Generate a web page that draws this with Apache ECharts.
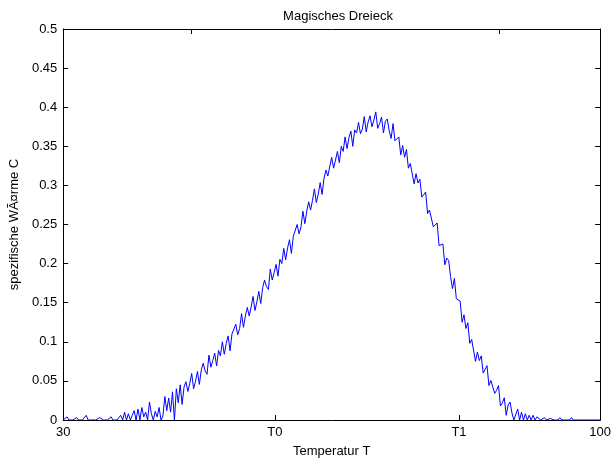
<!DOCTYPE html>
<html>
<head>
<meta charset="utf-8">
<script src="https://cdn.jsdelivr.net/npm/echarts@6/dist/echarts.min.js"></script>
<style>
html,body{margin:0;padding:0;background:#fff;}
#chart{width:614px;height:463px;}
</style>
</head>
<body>
<div id="chart"></div>
<script>
const titleText = 'Magisches Dreieck';
const xName = 'Temperatur T';
const yName = 'spezifische WÃ¤rme C';
const xTickValues = [30, 57.6, 81.6, 100];
const xTickLabels = ['30', 'T0', 'T1', '100'];
const topTickValues = [46.7, 86.9];
const temps = [
30,30.25,30.5,30.75, 31,31.25,31.5,31.75, 32,32.25,32.5,32.75, 33,33.25,33.5,33.75,
34,34.25,34.5,34.75, 35,35.25,35.5,35.75, 36,36.25,36.5,36.75, 37,37.25,37.5,37.75,
38,38.25,38.5,38.75, 39,39.25,39.5,39.75, 40,40.25,40.5,40.75, 41,41.25,41.5,41.75,
42,42.25,42.5,42.75, 43,43.25,43.5,43.75, 44,44.25,44.5,44.75, 45,45.25,45.5,45.75,
46,46.25,46.5,46.75, 47,47.25,47.5,47.75, 48,48.25,48.5,48.75, 49,49.25,49.5,49.75,
50,50.25,50.5,50.75, 51,51.25,51.5,51.75, 52,52.25,52.5,52.75, 53,53.25,53.5,53.75,
54,54.25,54.5,54.75, 55,55.25,55.5,55.75, 56,56.25,56.5,56.75, 57,57.25,57.5,57.75,
58,58.25,58.5,58.75, 59,59.25,59.5,59.75, 60,60.25,60.5,60.75, 61,61.25,61.5,61.75,
62,62.25,62.5,62.75, 63,63.25,63.5,63.75, 64,64.25,64.5,64.75, 65,65.25,65.5,65.75,
66,66.25,66.5,66.75, 67,67.25,67.5,67.75, 68,68.25,68.5,68.75, 69,69.25,69.5,69.75,
70,70.25,70.5,70.75, 71,71.25,71.5,71.75, 72,72.25,72.5,72.75, 73,73.25,73.5,73.75,
74,74.25,74.5,74.75, 75,75.25,75.5,75.75, 76,76.25,76.5,76.75, 77,77.25,77.5,77.75,
78,78.25,78.5,78.75, 79,79.25,79.5,79.75, 80,80.25,80.5,80.75, 81,81.25,81.5,81.75,
82,82.25,82.5,82.75, 83,83.25,83.5,83.75, 84,84.25,84.5,84.75, 85,85.25,85.5,85.75,
86,86.25,86.5,86.75, 87,87.25,87.5,87.75, 88,88.25,88.5,88.75, 89,89.25,89.5,89.75,
90,90.25,90.5,90.75, 91,91.25,91.5,91.75, 92,92.25,92.5,92.75, 93,93.25,93.5,93.75,
94,94.25,94.5,94.75, 95,95.25,95.5,95.75, 96,96.25,96.5,96.75, 97,97.25,97.5,97.75,
98,98.25,98.5,98.75, 99,99.25,99.5,99.75, 100
];
const heat = [
0,0,0.004,0, 0,0,0,0.003, 0,0,0,0, 0.006,0,0,0,
0,0,0,0.003, 0.002,0,0,0, 0,0.004,0,0, 0,0,0.006,0,
0.01,0,0.008,0, 0.006,0.012,0,0.014, 0,0.016,0.004,0.01, 0,0.023,0.008,0,
0.011,0.004,0.016,0, 0.005,0.03,0.012,0.028, 0.01,0.036,0,0.04, 0.022,0.045,0.02,0.042,
0.049,0.0365,0.047,0.0595, 0.04,0.0495,0.062,0.0455, 0.064,0.0725,0.063,0.0585, 0.083,0.0675,0.076,0.0855,
0.069,0.089,0.082,0.1, 0.084,0.098,0.1075,0.0885, 0.11,0.108,0.1225,0.109, 0.117,0.136,0.1185,0.133,
0.144,0.133,0.1445,0.158, 0.14,0.151,0.1645,0.149, 0.169,0.179,0.1705,0.167, 0.193,0.179,0.1885,0.199,
0.184,0.2055,0.2,0.2195, 0.205,0.22,0.2305,0.213, 0.235,0.234,0.25,0.238, 0.247,0.267,0.251,0.267,
0.279,0.2685,0.281,0.2955, 0.278,0.289,0.3035,0.2885, 0.309,0.3195,0.312,0.3095, 0.336,0.322,0.3325,0.3435,
0.329,0.35,0.3435,0.362, 0.347,0.361,0.3695,0.35, 0.371,0.367,0.3805,0.366, 0.372,0.388,0.3685,0.381,
0.389,0.375,0.3835,0.394, 0.373,0.379,0.3875,0.367, 0.382,0.385,0.37,0.36, 0.379,0.357,0.359,0.362,
0.339,0.351,0.336,0.346, 0.322,0.328,0.329,0.302, 0.315,0.303,0.308,0.285, 0.283,0.2915,0.264,0.2685,
0.269,0.247,0.2485,0.252, 0.223,0.2225,0.225,0.1985, 0.207,0.204,0.1835,0.168, 0.181,0.155,0.153,0.152,
0.125,0.1345,0.117,0.1245, 0.098,0.103,0.103,0.075, 0.087,0.076,0.082,0.06, 0.059,0.0695,0.044,0.0505,
0.053,0.034,0.038,0.044, 0.018,0.0218,0.0285,0.006, 0.019,0.023,0.009,0, 0,0.014,0,0.01,
0,0.008,0,0.006, 0,0.006,0,0.004, 0.005,0,0,0.003, 0,0,0.002,0,
0,0,0,0.003, 0,0,0,0, 0,0.003,0,0, 0,0,0,0,
0,0,0,0, 0,0,0,0, 0
];

const font = 'Liberation Sans, Arial, Helvetica, sans-serif';
const chart = echarts.init(document.getElementById('chart'), null, {renderer: 'canvas'});
const axisLine = {show: true, onZero: false, lineStyle: {color: '#000', width: 1}};
const tick = {show: true, inside: true, length: 5, lineStyle: {color: '#000', width: 1}};
chart.setOption({
  animation: false,
  backgroundColor: '#fff',
  title: {
    text: titleText, left: 333, top: 5, textAlign: 'center',
    textStyle: {fontFamily: font, fontSize: 13, fontWeight: 'normal', color: '#000'}
  },
  grid: {left: 63, right: 11, top: 29, bottom: 37, containLabel: false},
  xAxis: [{
    type: 'value', min: 30, max: 100, position: 'bottom',
    name: xName, nameLocation: 'middle', nameGap: 25,
    nameTextStyle: {fontFamily: font, fontSize: 13, color: '#000'},
    axisLine: axisLine,
    axisTick: Object.assign({}, tick, {customValues: xTickValues}),
    axisLabel: {
      customValues: xTickValues, margin: 6, color: '#000', fontFamily: font, fontSize: 13,
      formatter: function (v) {
        for (let i = 0; i < xTickValues.length; i++) {
          if (Math.abs(xTickValues[i] - v) < 1e-6) return xTickLabels[i];
        }
        return '';
      }
    },
    splitLine: {show: false}
  }, {
    type: 'value', min: 30, max: 100, position: 'top',
    axisLine: axisLine,
    axisTick: Object.assign({}, tick, {customValues: topTickValues}),
    axisLabel: {show: false},
    splitLine: {show: false}
  }],
  yAxis: [{
    type: 'value', min: 0, max: 0.5, interval: 0.05, position: 'left',
    name: yName, nameLocation: 'middle', nameGap: 36,
    nameTextStyle: {fontFamily: font, fontSize: 13, color: '#000'},
    axisLine: axisLine, axisTick: tick,
    axisLabel: {margin: 6, color: '#000', fontFamily: font, fontSize: 13,
      formatter: function (v) { return String(Math.round(v * 100) / 100); }},
    splitLine: {show: false}
  }, {
    type: 'value', min: 0, max: 0.5, interval: 0.05, position: 'right',
    axisLine: axisLine, axisTick: tick,
    axisLabel: {show: false},
    splitLine: {show: false}
  }],
  series: [{
    type: 'line',
    xAxisIndex: 0, yAxisIndex: 0,
    data: temps.map(function (t, i) { return [t, heat[i]]; }),
    showSymbol: false, symbol: 'none',
    lineStyle: {color: '#0000ff', width: 1},
    itemStyle: {color: '#0000ff'},
    silent: true
  }]
});
</script>
</body>
</html>
